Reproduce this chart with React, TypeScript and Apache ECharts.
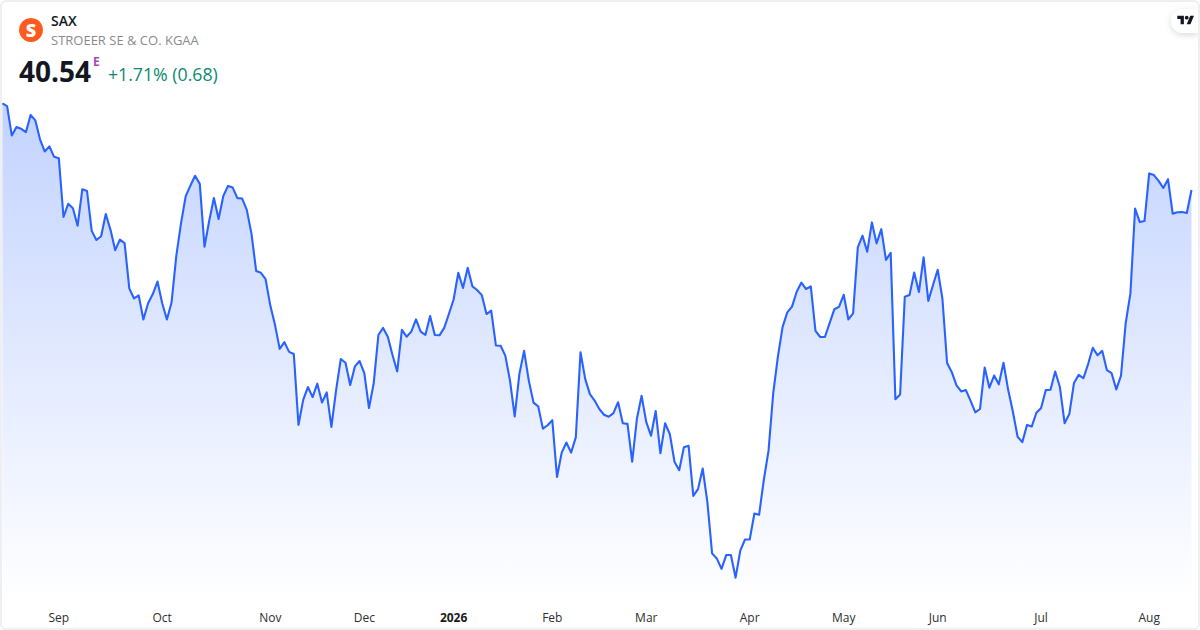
import React, { useEffect, useRef } from "react";
import * as echarts from "echarts";

const closes: number[] = [
  43.10, 43.02, 42.15, 42.40, 42.35, 42.25, 42.76, 42.60, 42.04, 41.68,
  41.83, 41.52, 41.48, 39.74, 40.13, 40.00, 39.48, 40.56, 40.51, 39.33,
  39.06, 39.17, 39.83, 39.36, 38.76, 39.07, 38.97, 37.63, 37.33, 37.42,
  36.71, 37.19, 37.46, 37.83, 37.19, 36.71, 37.22, 38.59, 39.55, 40.36,
  40.67, 40.96, 40.72, 38.86, 39.63, 40.30, 39.68, 40.36, 40.66, 40.61,
  40.30, 40.29, 39.95, 39.24, 38.14, 38.09, 37.90, 37.12, 36.55, 35.84,
  36.04, 35.75, 35.69, 33.59, 34.33, 34.71, 34.41, 34.81, 34.25, 34.55,
  33.53, 34.62, 35.54, 35.43, 34.77, 35.32, 35.48, 35.12, 34.09, 34.82,
  36.25, 36.46, 36.20, 35.66, 35.17, 36.40, 36.20, 36.35, 36.71, 36.35,
  36.25, 36.81, 36.25, 36.24, 36.46, 36.87, 37.30, 38.09, 37.64, 38.24,
  37.69, 37.58, 37.43, 36.87, 36.97, 35.94, 35.93, 35.64, 34.90, 33.84,
  35.10, 35.78, 34.90, 34.25, 34.14, 33.48, 33.58, 33.73, 32.05, 32.77,
  33.07, 32.77, 33.22, 35.74, 34.95, 34.50, 34.31, 34.06, 33.89, 33.83,
  33.94, 34.26, 33.64, 33.62, 32.50, 33.77, 34.45, 33.67, 33.27, 34.00,
  32.75, 33.64, 33.32, 32.50, 32.25, 32.93, 32.97, 31.49, 31.69, 32.30,
  31.30, 29.79, 29.64, 29.33, 29.74, 29.74, 29.07, 29.87, 30.20, 30.20,
  30.97, 30.93, 31.96, 32.82, 34.52, 35.61, 36.49, 36.92, 37.09, 37.53,
  37.80, 37.61, 37.69, 36.37, 36.19, 36.19, 36.60, 37.01, 37.08, 37.44,
  36.71, 36.89, 38.84, 39.19, 38.71, 39.58, 38.96, 39.38, 38.47, 38.68,
  34.35, 34.49, 37.38, 37.43, 38.10, 37.52, 38.55, 37.26, 37.73, 38.18,
  37.33, 35.42, 35.15, 34.76, 34.58, 34.62, 34.30, 33.96, 34.06, 35.29,
  34.69, 35.05, 34.79, 35.43, 34.62, 33.98, 33.24, 33.08, 33.59, 33.54,
  33.95, 34.09, 34.62, 34.63, 35.17, 34.71, 33.64, 33.91, 34.83, 35.07,
  34.97, 35.39, 35.87, 35.65, 35.78, 35.21, 35.12, 34.64, 35.05, 36.60,
  37.48, 39.99, 39.59, 39.62, 41.03, 40.98, 40.81, 40.60, 40.86, 39.84,
  39.88, 39.89, 39.86, 40.54,
];
const tickLabels: string[] = ["Sep", "Oct", "Nov", "Dec", "2026", "Feb", "Mar", "Apr", "May", "Jun", "Jul", "Aug"];
const tickSessions: number[] = [12, 34, 57, 77, 96, 117, 137, 159, 179, 199, 221, 244];
const yearLabels: string[] = ["2026"];

const ticker = "SAX";
const companyName = "STROEER SE & CO. KGAA";
const lastPrice = "40.54";
const sessionFlag = "E";
const changeText = "+1.71% (0.68)";

const FONT = '"Open Sans", sans-serif';
const sessions = closes.map((_, i) => {
  const t = tickSessions.indexOf(i);
  return t >= 0 ? tickLabels[t] : `s${i}`;
});

echarts.graphic.registerShape(
  "tvMarkA",
  echarts.graphic.extendPath("M14 22H7V11H0V4h14v18zM28 22h-8l7.5-18h8L28 22z", {}) as any
);

export default function App() {
  const ref = useRef<HTMLDivElement>(null);
  useEffect(() => {
    document.body.style.margin = "0";
    const chart = echarts.init(ref.current!, undefined, { renderer: "svg" });
    chart.setOption({
      animation: false,
      backgroundColor: "#ffffff",
      grid: { left: 2.4, right: 8.5, top: 0, bottom: 30 },
      xAxis: {
        type: "category",
        data: sessions,
        boundaryGap: false,
        axisLine: { show: false },
        axisTick: { show: false },
        splitLine: { show: false },
        axisLabel: {
          interval: (i: number) => tickSessions.includes(i),
          hideOverlap: false,
          margin: 11,
          fontFamily: FONT,
          fontSize: 12,
          color: "#2e2e2e",
          formatter: (v: string) => (yearLabels.includes(v) ? `{y|${v}}` : v),
          rich: { y: { fontFamily: FONT, fontSize: 12, fontWeight: 700, color: "#1a1a1a" } },
        },
      },
      yAxis: { type: "value", min: 28.41, max: 46.16, show: false, splitLine: { show: false } },
      series: [
        {
          type: "line",
          data: closes,
          symbol: "none",
          smooth: false,
          lineStyle: { color: "#2962ff", width: 2.1, join: "round" },
          areaStyle: {
            opacity: 1,
            color: new echarts.graphic.LinearGradient(0, 0, 0, 1, [
              { offset: 0, color: "rgba(41,98,255,0.28)" },
              { offset: 1, color: "rgba(41,98,255,0)" },
            ]),
          },
        },
      ],
      graphic: [
        { type: "circle", shape: { cx: 31, cy: 30, r: 12 }, style: { fill: "#ff5a1f" } },
        {
          type: "text", x: 31, y: 30,
          style: { text: "S", fontFamily: FONT, fontSize: 18, fontWeight: 800, fill: "#ffffff", align: "center", verticalAlign: "middle" },
        },
        {
          type: "text", x: 51, y: 20,
          style: { text: ticker, fontFamily: FONT, fontSize: 14, fontWeight: 600, fill: "#131722", verticalAlign: "middle" },
        },
        {
          type: "text", x: 51, y: 40,
          style: { text: companyName, fontFamily: FONT, fontSize: 13, fontWeight: 400, fill: "#8a8a8a", verticalAlign: "middle" },
        },
        {
          type: "text", x: 19, y: 71,
          style: { text: lastPrice, fontFamily: FONT, fontSize: 28, fontWeight: 700, fill: "#131722", verticalAlign: "middle" },
        },
        {
          type: "text", x: 93, y: 61,
          style: { text: sessionFlag, fontFamily: FONT, fontSize: 12, fontWeight: 700, fill: "#ab47bc", verticalAlign: "middle" },
        },
        {
          type: "text", x: 108, y: 74,
          style: { text: changeText, fontFamily: FONT, fontSize: 17.7, fontWeight: 400, fill: "#0b8a72", verticalAlign: "middle" },
        },
        {
          type: "rect",
          shape: { x: 1171, y: 9, width: 27, height: 24, r: [12, 0, 0, 12] },
          style: { fill: "#ffffff", shadowBlur: 6, shadowColor: "rgba(0,0,0,0.15)", shadowOffsetY: 2 },
        },
        { type: "tvMarkA", x: 1177.3, y: 13.9, scaleX: 0.47, scaleY: 0.47, style: { fill: "#131722" } },
        { type: "circle", shape: { cx: 1186.7, cy: 17.7, r: 1.9 }, style: { fill: "#131722" } },
      ],
    });
    return () => chart.dispose();
  }, []);
  return (
    <div style={{ position: "fixed", left: 0, top: 0, width: 1200, height: 630, background: "#fff", overflow: "hidden" }}>
      <div ref={ref} style={{ position: "absolute", left: 0, top: 0, width: 1200, height: 630 }} />
      <div
        style={{
          position: "absolute", left: 0, top: 0, width: 1200, height: 630, boxSizing: "border-box",
          border: "2px solid #eeeff2", borderRadius: 6, pointerEvents: "none",
        }}
      />
    </div>
  );
}
